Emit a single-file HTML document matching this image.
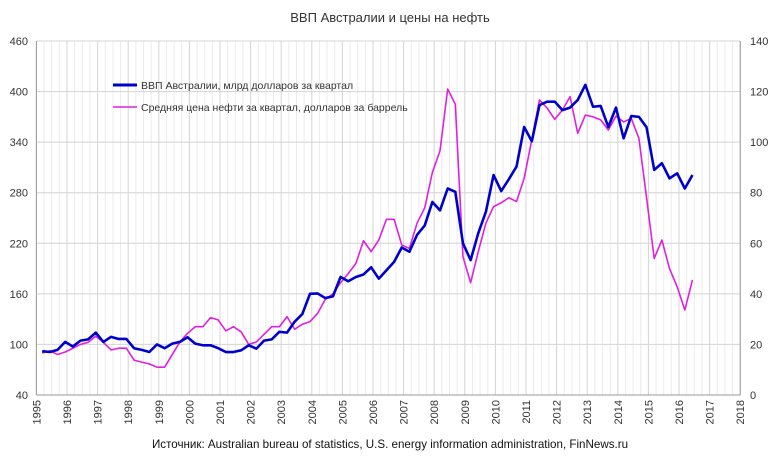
<!DOCTYPE html>
<html><head><meta charset="utf-8">
<style>
body{margin:0;background:#fff;font-family:"Liberation Sans","DejaVu Sans",sans-serif;}
svg text{font-family:"Liberation Sans","DejaVu Sans",sans-serif;fill:#333;}
</style></head>
<body>
<svg id="chart" width="780" height="456" xmlns="http://www.w3.org/2000/svg">
<rect width="780" height="456" fill="#fff"/>
<text x="390" y="22" font-size="13" text-anchor="middle">ВВП Австралии и цены на нефть</text>
<g id="grid"></g><g id="axes"></g><g id="series"></g>
<g>
<line x1="113" y1="85" x2="137" y2="85" stroke="#0000cc" stroke-width="3"/>
<text x="141" y="89" font-size="10.5">ВВП Австралии,  млрд долларов за квартал</text>
<line x1="113" y1="107" x2="137" y2="107" stroke="#e020e0" stroke-width="1.6"/>
<text x="141" y="111" font-size="10.5">Средняя  цена  нефти  за квартал, долларов за баррель</text>
</g>
<text x="390" y="448" font-size="11.6" text-anchor="middle" style="fill:#111">Источник: Australian bureau of statistics, U.S. energy information administration, FinNews.ru</text>
</svg>
<script>
const years=[1995,1996,1997,1998,1999,2000,2001,2002,2003,2004,2005,2006,2007,2008,2009,2010,2011,2012,2013,2014,2015,2016,2017,2018];
const leftTicks=[40,100,160,220,280,340,400,460];
const rightTicks=[0,20,40,60,80,100,120,140];
const gdp=[92,91,93.5,103, 97.5,104.5,106,114, 103,109,106.5,106.5, 95.5,93.5,91,100, 95.5,101,103,108.5, 101,99,99,95.5, 91,91,93,99, 95,104.5,106,115, 114,127,136,160, 160.5,155,157,180, 175,180,183,191.5, 178,188,198,215, 210,230,241,269, 259,285,281,220, 200,232,257.5,301, 282,296,311,358, 341,384,388,388, 378,381,390,408, 382,383,358,381, 344.5,371,370,357.6, 307,315,297,303, 285,301];
const oil=[16.6,17.5,16,17, 18.5,20,20.8,23.3, 20.8,17.8,18.5,18.5, 13.8,13,12.3,11, 11,16,21,24.4, 27,27,30.6,29.7, 25.4,27,25,20, 21,24,27,27, 31,26,28,29, 32.3,37.8,40,44.4, 48,52,61,56.7, 61.3,69.5,69.5,59.3, 58,68,74,88, 96.6,121,115,54.7, 44.4,56.7,68,74.5, 76,78,76.5,85.7, 101,116.7,113.5,109, 112.7,118,103.5,110.7, 110,108.8,104.8,110.3, 108,109.4,101.5,78, 54,61.3,50,42.8, 33.6,45.5];
const X0=36.4,PX=30.6,YT=41,YB=395;
const xs=t=>X0+(t-1995)*PX;
const yl=v=>YB-(v-40)/420*(YB-YT);
const yr=v=>YB-v/140*(YB-YT);
const qt=i=>1995+Math.floor(i/4)+(i%4)/4+0.19;
const NS="http://www.w3.org/2000/svg";
function mk(tag,attrs,parent){const e=document.createElementNS(NS,tag);for(const k in attrs)e.setAttribute(k,attrs[k]);parent.appendChild(e);return e;}
const grid=document.getElementById('grid'),axes=document.getElementById('axes'),ser=document.getElementById('series');
for(let y=1995;y<2018;y++){for(let q=1;q<4;q++){const l=mk('line',{x1:xs(y+q/4),x2:xs(y+q/4),y1:YT,y2:YB,stroke:'#ececec','stroke-width':1},grid);

}}
years.forEach(y=>{const l=mk('line',{x1:xs(y),x2:xs(y),y1:YT,y2:YB,stroke:'#d4d4d4','stroke-width':1},grid);


const t=mk('text',{x:0,y:0,'font-size':11,'text-anchor':'end',transform:`translate(${xs(y)+4},${YB+5}) rotate(-90)`},axes);t.textContent=y;

});
leftTicks.forEach(v=>{const l=mk('line',{x1:X0,x2:xs(2018),y1:yl(v),y2:yl(v),stroke:'#d4d4d4','stroke-width':1},grid);


const t=mk('text',{x:28,y:yl(v)+4,'font-size':11,'text-anchor':'end'},axes);t.textContent=v;

});
rightTicks.forEach(v=>{const t=mk('text',{x:750,y:yr(v)+4,'font-size':11},axes);t.textContent=v;

});
const la=mk('line',{x1:X0,x2:X0,y1:YT,y2:YB,stroke:'#999'},axes);


const ra=mk('line',{x1:xs(2018),x2:xs(2018),y1:YT,y2:YB,stroke:'#999'},axes);


const ba=mk('line',{x1:X0,x2:xs(2018),y1:YB,y2:YB,stroke:'#999'},axes);


const po=mk('polyline',{points:oil.map((v,i)=>xs(qt(i))+','+yr(v)).join(' '),fill:'none',stroke:'#e020e0','stroke-width':1.6,'stroke-linejoin':'round'},ser);


const pg=mk('polyline',{points:gdp.map((v,i)=>xs(qt(i))+','+yl(v)).join(' '),fill:'none',stroke:'#0000cc','stroke-width':2.6,'stroke-linejoin':'round'},ser);


</script>
</body></html>
